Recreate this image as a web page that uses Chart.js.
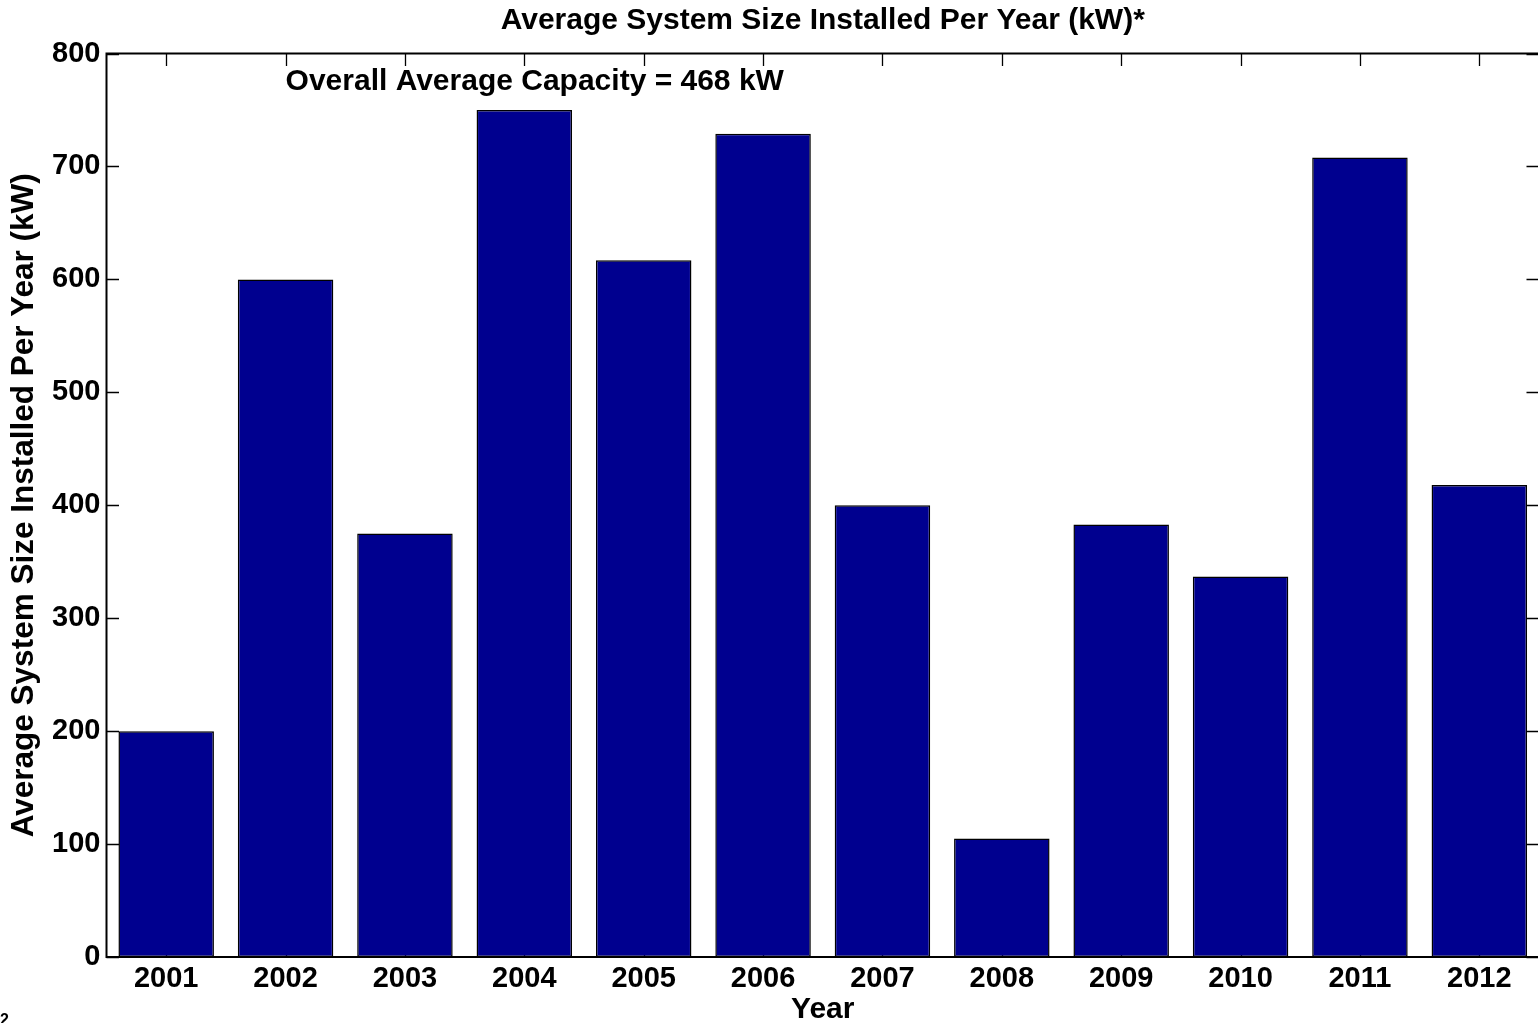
<!DOCTYPE html>
<html>
<head>
<meta charset="utf-8">
<title>Average System Size Installed Per Year</title>
<script src="https://cdn.jsdelivr.net/npm/chart.js@4.4.1/dist/chart.umd.min.js"></script>
<style>
  html, body { margin: 0; padding: 0; background: #fff; overflow: hidden; }
  #moldura { width: 1538px; height: 1023px; overflow: hidden; position: relative; }
  #grafico { display: block; }
</style>
</head>
<body>
<div id="moldura">
  <canvas id="grafico" width="1545" height="1023"></canvas>
</div>
<script>
// dados
const anos = ["2001", "2002", "2003", "2004", "2005", "2006", "2007", "2008", "2009", "2010", "2011", "2012"];
const tamanhoMedio = [200, 600, 375, 750, 617, 729, 400, 105, 383, 337, 708, 418];
const ticksY = [0, 100, 200, 300, 400, 500, 600, 700, 800];

const tituloGrafico = "Average System Size Installed Per Year (kW)*";
const tituloY = "Average System Size Installed Per Year (kW)";
const tituloX = "Year";
const textoMedia = "Overall Average Capacity = 468 kW";
// posicao do texto em coordenadas de dados (ano, kW)
const posTextoMedia = ["2002", 775];

const FONTE = "'Liberation Sans', Arial, Helvetica, sans-serif";
const TAM_MARCA = 12.5;

// desenha caixa e marcas no estilo do matlab
const eixosMatlab = {
  id: "eixosMatlab",
  beforeDatasetsDraw(chart) {
    const ctx = chart.ctx;
    const area = chart.chartArea;
    const x = chart.scales.x;
    const y = chart.scales.y;
    ctx.save();
    ctx.strokeStyle = "#000";
    ctx.lineWidth = 1.3;
    ctx.beginPath();
    for (let i = 0; i < anos.length; i++) {
      const px = Math.round(x.getPixelForTick(i)) + 0.5;
      ctx.moveTo(px, area.top);
      ctx.lineTo(px, area.top + TAM_MARCA);
      ctx.moveTo(px, area.bottom);
      ctx.lineTo(px, area.bottom - TAM_MARCA);
    }
    for (let i = 0; i < ticksY.length; i++) {
      const py = Math.round(y.getPixelForValue(ticksY[i])) + 0.5;
      ctx.moveTo(area.left, py);
      ctx.lineTo(area.left + TAM_MARCA, py);
      ctx.moveTo(area.right, py);
      ctx.lineTo(area.right - TAM_MARCA, py);
    }
    ctx.stroke();
    ctx.restore();
  },
  afterDatasetsDraw(chart) {
    const ctx = chart.ctx;
    const area = chart.chartArea;
    const x = chart.scales.x;
    const y = chart.scales.y;
    ctx.save();
    ctx.strokeStyle = "#000";
    ctx.lineWidth = 2;
    ctx.strokeRect(area.left, area.top, area.right - area.left, area.bottom - area.top);

    ctx.fillStyle = "#000";
    ctx.font = "bold 30px " + FONTE;
    ctx.textAlign = "left";
    ctx.textBaseline = "middle";
    ctx.fillText(textoMedia, x.getPixelForValue(anos.indexOf(posTextoMedia[0])), y.getPixelForValue(posTextoMedia[1]));

    // pedaco de texto cortado no canto
    ctx.font = "bold 16px " + FONTE;
    ctx.textBaseline = "alphabetic";
    ctx.fillText("2", 0, 1025);
    ctx.restore();
  }
};

const ctx = document.getElementById("grafico");

new Chart(ctx, {
  type: "bar",
  data: {
    labels: anos,
    datasets: [{
      label: "Average System Size",
      data: tamanhoMedio,
      backgroundColor: "rgb(0, 0, 143)",
      borderColor: "#000",
      borderWidth: 1.5,
      borderSkipped: false,
      barPercentage: 0.8,
      categoryPercentage: 1.0
    }]
  },
  options: {
    responsive: false,
    animation: false,
    devicePixelRatio: 1,
    layout: {
      padding: { left: 0, right: 6, top: 0, bottom: 0 }
    },
    plugins: {
      legend: { display: false },
      tooltip: { enabled: false },
      title: {
        display: true,
        text: tituloGrafico,
        color: "#000",
        fullSize: false,
        font: { family: FONTE, size: 30, weight: "bold", lineHeight: 1.2 },
        padding: { top: 2.5, bottom: 15 }
      }
    },
    scales: {
      x: {
        type: "category",
        offset: true,
        grid: { display: false, drawTicks: false },
        border: { display: false },
        ticks: {
          color: "#000",
          padding: 5,
          maxRotation: 0,
          autoSkip: false,
          font: { family: FONTE, size: 29, weight: "bold" }
        },
        title: {
          display: true,
          text: tituloX,
          color: "#000",
          padding: { top: 0, bottom: 0 },
          font: { family: FONTE, size: 30, weight: "bold", lineHeight: 0.9 }
        },
        afterFit(scale) {
          scale.height = 66;
        }
      },
      y: {
        min: 0,
        max: 800,
        grid: { display: false, drawTicks: false },
        border: { display: false },
        afterBuildTicks(scale) {
          scale.ticks = ticksY.map(v => ({ value: v }));
        },
        ticks: {
          color: "#000",
          padding: 6,
          font: { family: FONTE, size: 29, weight: "bold" }
        },
        title: {
          display: true,
          text: tituloY,
          color: "#000",
          padding: { top: 5, bottom: 0 },
          font: { family: FONTE, size: 31.5, weight: "bold", lineHeight: 1.2 }
        },
        afterFit(scale) {
          scale.width = 106.5;
        }
      }
    }
  },
  plugins: [eixosMatlab]
});
</script>
</body>
</html>
